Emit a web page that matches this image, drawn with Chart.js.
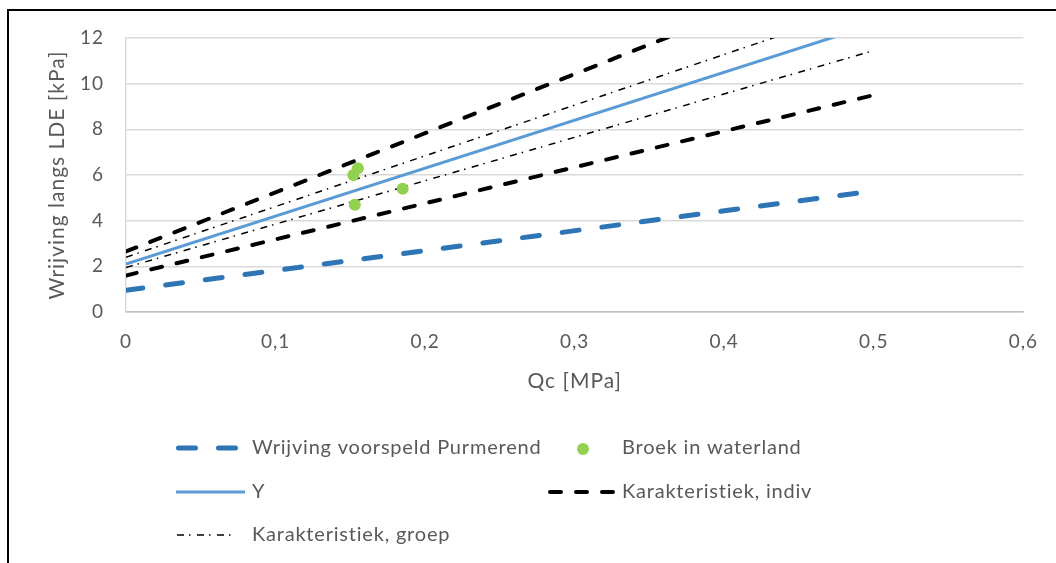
<!DOCTYPE html>
<html>
<head>
<meta charset="utf-8">
<script src="https://cdn.jsdelivr.net/npm/chart.js@4.4.1/dist/chart.umd.min.js"></script>
<style>
  html, body { margin: 0; padding: 0; background: #ffffff; overflow: hidden; }
  #wrap { position: relative; width: 1056px; height: 563px; }
  #frame { position: absolute; left: 7px; top: 9px; width: 1200px; height: 700px;
           border: 2px solid #000; pointer-events: none; }
  canvas { position: absolute; left: 0; top: 0; }
</style>
</head>
<body>
<div id="wrap">
  <canvas id="chart" width="1056" height="563"></canvas>
  <div id="frame"></div>
</div>
<script>
// Axis ticks
const xTickLabels = ['0', '0,1', '0,2', '0,3', '0,4', '0,5', '0,6'];
const yTickValues = [0, 2, 4, 6, 8, 10, 12];

// Qc [MPa] → friction [kPa]
const purmerendQc = [0, 0.5];
const purmerendF  = [0.95, 5.3];

const broekQc = [0.152, 0.155, 0.153, 0.185];
const broekF  = [6.0, 6.3, 4.7, 5.4];

const yQc = [0, 0.5];
const yF  = [2.1, 12.6];

const indivUpperQc = [0, 0.5];
const indivUpperF  = [2.65, 15.6];
const indivLowerQc = [0, 0.5];
const indivLowerF  = [1.6, 9.5];

const groepUpperQc = [0, 0.5];
const groepUpperF  = [2.4, 13.5];
const groepLowerQc = [0, 0.5];
const groepLowerF  = [1.95, 11.45];

const labels = {
  purmerend: 'Wrijving voorspeld Purmerend',
  broek: 'Broek in waterland',
  y: 'Y',
  indiv: 'Karakteristiek, indiv',
  groep: 'Karakteristiek, groep'
};

const pts = (xs, ys) => xs.map((x, i) => ({ x: x, y: ys[i] }));

const TEXT = '#595959';
const FONT = 'Lato';

const styles = {
  purmerend: { borderColor: '#2e75b6', borderWidth: 5, borderDash: [17, 23], borderCapStyle: 'round' },
  y:         { borderColor: '#5b9bd5', borderWidth: 3, borderDash: [], borderCapStyle: 'butt' },
  indiv:     { borderColor: '#000000', borderWidth: 4, borderDash: [11, 15], borderCapStyle: 'round' },
  groep:     { borderColor: '#000000', borderWidth: 1.5, borderDash: [7, 5, 1.5, 6.5], borderCapStyle: 'butt' }
};

function lineSet(key, xs, ys, order) {
  return Object.assign({
    label: labels[key],
    legendKey: key,
    data: pts(xs, ys),
    showLine: true,
    pointRadius: 0,
    pointHoverRadius: 0,
    tension: 0,
    fill: false,
    clip: 0,
    order: order
  }, styles[key]);
}

const datasets = [
  lineSet('purmerend', purmerendQc, purmerendF, 5),
  lineSet('y', yQc, yF, 3),
  lineSet('indiv', indivUpperQc, indivUpperF, 4),
  lineSet('indiv', indivLowerQc, indivLowerF, 4),
  lineSet('groep', groepUpperQc, groepUpperF, 2),
  lineSet('groep', groepLowerQc, groepLowerF, 2),
  {
    label: labels.broek,
    legendKey: 'broek',
    data: pts(broekQc, broekF),
    showLine: false,
    pointRadius: 6,
    pointHoverRadius: 6,
    pointBackgroundColor: '#92d050',
    pointBorderWidth: 0,
    borderColor: '#92d050',
    order: 0
  }
];

// Excel-style two-column legend below the plot
const legendLayout = [
  { key: 'purmerend', sx: 176, sw: 62, tx: 252, y: 448 },
  { key: 'broek',     sx: 548, sw: 67, tx: 622, y: 448 },
  { key: 'y',         sx: 176, sw: 69, tx: 252, y: 492 },
  { key: 'indiv',     sx: 548, sw: 67, tx: 622, y: 492 },
  { key: 'groep',     sx: 177, sw: 58, tx: 252, y: 535 }
];

const spacingPlugin = {
  id: 'textSpacing',
  beforeLayout(chart) { chart.ctx.letterSpacing = '1px'; },
  beforeDraw(chart) { chart.ctx.letterSpacing = '1px'; }
};

const legendPlugin = {
  id: 'excelLegend',
  afterDraw(chart) {
    const ctx = chart.ctx;
    const sets = chart.data.datasets;
    legendLayout.forEach(item => {
      const ds = sets.find(d => d.legendKey === item.key);
      ctx.save();
      if (ds.showLine) {
        ctx.strokeStyle = ds.borderColor;
        ctx.lineWidth = ds.borderWidth;
        ctx.lineCap = ds.borderCapStyle;
        ctx.setLineDash(ds.borderDash || []);
        const cap = ds.borderCapStyle === 'round' ? ds.borderWidth / 2 : 0;
        ctx.beginPath();
        ctx.moveTo(item.sx + cap, item.y);
        ctx.lineTo(item.sx + item.sw - cap, item.y);
        ctx.stroke();
      } else {
        ctx.fillStyle = ds.pointBackgroundColor;
        ctx.beginPath();
        ctx.arc(item.sx + 35, item.y + 1, ds.pointRadius, 0, Math.PI * 2);
        ctx.fill();
      }
      ctx.setLineDash([]);
      ctx.letterSpacing = '0.8px';
      ctx.font = '20px ' + FONT;
      ctx.fillStyle = TEXT;
      ctx.textBaseline = 'middle';
      ctx.textAlign = 'left';
      ctx.fillText(ds.label, item.tx, item.y);
      ctx.restore();
    });
  }
};

new Chart(document.getElementById('chart'), {
  type: 'scatter',
  data: { datasets: datasets },
  plugins: [spacingPlugin, legendPlugin],
  options: {
    responsive: false,
    animation: false,
    devicePixelRatio: 1,
    layout: { padding: { left: 0, top: 38, right: 30, bottom: 169 } },
    plugins: { legend: { display: false }, tooltip: { enabled: false } },
    scales: {
      x: {
        type: 'linear',
        min: 0,
        max: 0.6,
        afterFit(scale) { scale.height = 82; },
        afterBuildTicks(scale) {
          scale.ticks = xTickLabels.map((_, i) => ({ value: i / 10 }));
        },
        grid: { display: false, drawTicks: false },
        border: { display: true, color: '#bfbfbf', width: 1.5 },
        ticks: {
          padding: 18,
          color: TEXT,
          font: { family: FONT, size: 19 },
          maxRotation: 0,
          callback: (v, i) => xTickLabels[i]
        },
        title: {
          display: true,
          text: 'Qc [MPa]',
          color: TEXT,
          font: { family: FONT, size: 21 },
          padding: { top: 0, bottom: 0 }
        }
      },
      y: {
        type: 'linear',
        min: 0,
        max: 12,
        afterFit(scale) { scale.width = 126; },
        afterBuildTicks(scale) {
          scale.ticks = yTickValues.map(v => ({ value: v }));
        },
        grid: { color: '#d9d9d9', lineWidth: 1.5, drawTicks: false },
        border: { display: true, color: '#d9d9d9', width: 1.5 },
        ticks: {
          padding: 22,
          color: TEXT,
          font: { family: FONT, size: 19 },
          callback: v => String(v)
        },
        title: {
          display: true,
          text: 'Wrijving langs LDE [kPa]',
          color: TEXT,
          font: { family: FONT, size: 21 },
          padding: { top: 45, bottom: 0 }
        }
      }
    }
  }
});
</script>
</body>
</html>
